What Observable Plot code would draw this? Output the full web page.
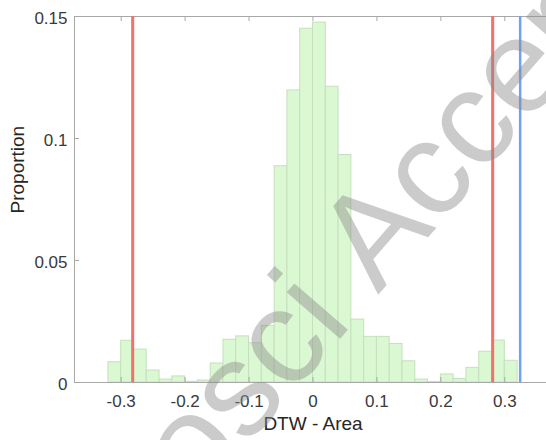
<!DOCTYPE html>
<html>
<head>
<meta charset="utf-8">
<script src="https://cdn.jsdelivr.net/npm/d3@7"></script>
<script src="https://cdn.jsdelivr.net/npm/@observablehq/plot@0.6"></script>
<style>
  html, body { margin: 0; padding: 0; background: #fff; overflow: hidden; }
  #chart svg { display: block; }
</style>
</head>
<body>
<div id="chart"></div>
<script>
// ---- data ----
const binWidth = 0.02;
const binStart = [-0.32, -0.30, -0.28, -0.26, -0.24, -0.22, -0.20, -0.18, -0.16, -0.14, -0.12, -0.10, -0.08, -0.06, -0.04, -0.02,
                   0.00,  0.02,  0.04,  0.06,  0.08,  0.10,  0.12,  0.14,  0.16,  0.18,  0.20,  0.22,  0.24,  0.26,  0.28,  0.30];
const proportion = [0.0083, 0.0171, 0.0135, 0.0049, 0.0012, 0.0025, 0.0003, 0.0008, 0.0078, 0.0175, 0.0189, 0.0161, 0.0232, 0.0886, 0.1197, 0.1450,
                    0.1475, 0.1212, 0.0932, 0.0258, 0.0187, 0.0187, 0.0158, 0.0087, 0.0012, 0.0002, 0.0033, 0.0014, 0.0060, 0.0126, 0.0172, 0.0089];
const redLines = [-0.282, 0.281];
const blueLines = [0.324];
const xTicks = [-0.3, -0.2, -0.1, 0, 0.1, 0.2, 0.3];
const yTicks = [0, 0.05, 0.1, 0.15];
const xDomain = [-0.373, 0.3652];
const yDomain = [0, 0.15];
const xLabel = "DTW - Area";
const yLabel = "Proportion";
const watermarkLeft = "JNeurosci";
const watermarkRight = "Accepted Manuscript";

// ---- layout ----
const W = 546, H = 440;
const mL = 74, mR = 0, mT = 16, mB = 58;
const innerW = W - mL - mR, innerH = H - mT - mB;
const axisColor = "#a8a8a8";
const textColor = "#3a3a3a";
const tickLen = 5;

const bins = binStart.map((lo, i) => ({x1: lo, x2: lo + binWidth, y: proportion[i]}));

const chart = Plot.plot({
  width: W, height: H,
  marginLeft: mL, marginRight: mR, marginTop: mT, marginBottom: mB,
  style: {fontFamily: "'Liberation Sans', Arial, Helvetica, sans-serif", background: "#fff"},
  x: {domain: xDomain, axis: null},
  y: {domain: yDomain, axis: null},
  marks: [
    Plot.rect(bins, {x1: "x1", x2: "x2", y1: 0, y2: "y", fill: "#daf8d1", stroke: "#c6dfbf", strokeWidth: 1}),
    // box lines
    Plot.ruleY([yDomain[0]], {stroke: axisColor, strokeWidth: 1}),
    Plot.ruleY([yDomain[1]], {stroke: axisColor, strokeWidth: 1}),
    Plot.ruleX([xDomain[0]], {stroke: axisColor, strokeWidth: 1}),
    // inward ticks
    Plot.tickX(xTicks, {x: d => d, insetTop: innerH - tickLen, stroke: axisColor}),
    Plot.tickX(xTicks, {x: d => d, insetBottom: innerH - tickLen, stroke: axisColor}),
    Plot.tickY(yTicks, {y: d => d, insetRight: innerW - tickLen, stroke: axisColor}),
    // tick labels
    Plot.axisX(xTicks, {tickSize: 0, tickPadding: 12, fontSize: 17, color: textColor, tickFormat: d => String(d), label: null}),
    Plot.axisY(yTicks, {tickSize: 0, tickPadding: 7, fontSize: 17, dy: 2, color: textColor, tickFormat: d => String(d), label: null}),
    // reference lines
    Plot.ruleX(redLines, {stroke: "#f4706a", strokeWidth: 3}),
    Plot.ruleX(blueLines, {stroke: "#6fa3f1", strokeWidth: 2.5}),
    // axis labels
    Plot.text([xLabel], {frameAnchor: "bottom", dy: 47, dx: 2.5, fontSize: 19, fill: "#262626"}),
    Plot.text([yLabel], {frameAnchor: "left", rotate: -90, dx: -56.5, dy: 14, fontSize: 19, fill: "#262626"})
  ]
});

document.getElementById("chart").appendChild(chart);

// watermark overlay (decoration, as in the reference image)
const svg = d3.select(chart);
const wm = svg.append("g")
  .attr("transform", "translate(378,295) rotate(-49)")
  .attr("font-family", "'Liberation Sans', Arial, sans-serif")
  .attr("font-size", 134)
  .attr("fill", "#8c8c8c")
  .attr("fill-opacity", 0.45);
wm.append("text").attr("text-anchor", "start").text(watermarkRight);
wm.append("text").attr("text-anchor", "end").attr("x", -37).text(watermarkLeft);
</script>
</body>
</html>
